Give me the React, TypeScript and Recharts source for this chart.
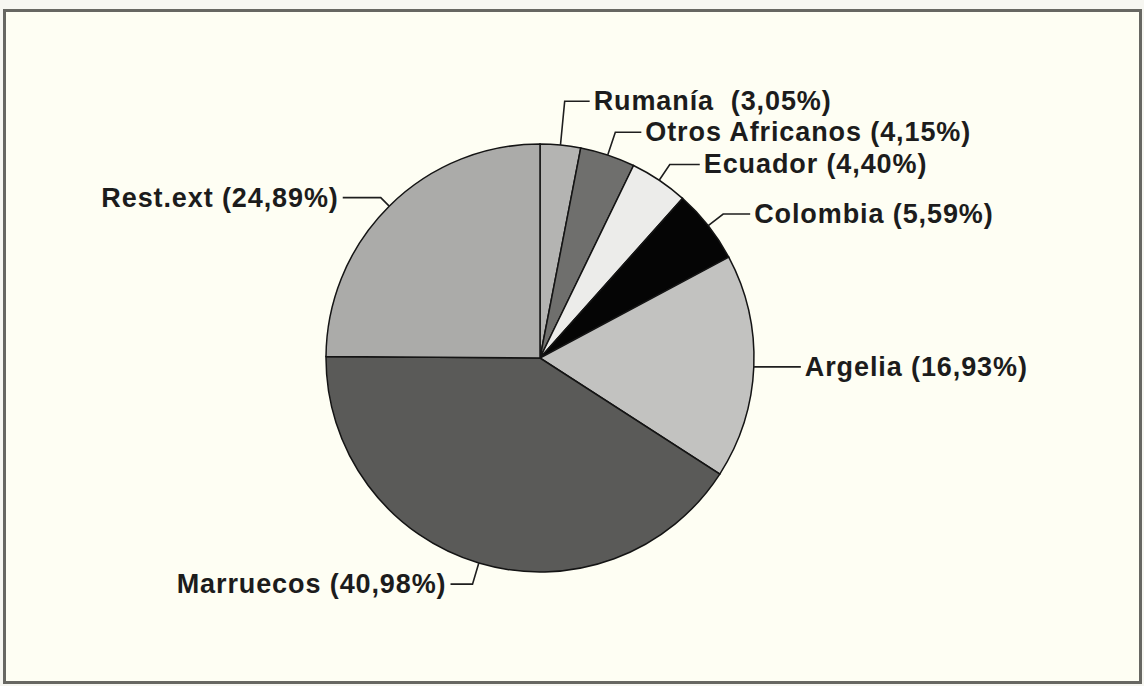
import React from 'react';
import { PieChart, Pie, Cell } from 'recharts';

// share of foreign population by origin (%)
const countries = ['Rumanía', 'Otros Africanos', 'Ecuador', 'Colombia', 'Argelia', 'Marruecos', 'Rest.ext'];
const shares = [3.05, 4.15, 4.4, 5.59, 16.93, 40.98, 24.89];
const sliceColors = ['#b4b4b2', '#6f6f6d', '#ececea', '#050505', '#c2c2c0', '#5a5a58', '#ababa9'];

// leader line layout per slice: [radial length, horizontal run]
const leaderLayout = [
  [44, 25],
  [24, 26],
  [19, 30],
  [19, 27],
  [0, 47],
  [22, 22],
  [12, 38],
];

const data = countries.map((name, i) => ({ name, value: shares[i] }));

const formatLabel = (name: string, value: number) => {
  const pct = value.toFixed(2).replace('.', ',');
  const gap = name === 'Rumanía' ? '\u00a0 ' : ' ';
  return `${name}${gap}(${pct}%)`;
};

const RAD = Math.PI / 180;

const renderLabel = (props: any) => {
  const { cx, cy, midAngle, outerRadius, index } = props;
  const cos = Math.cos(-midAngle * RAD);
  const sin = Math.sin(-midAngle * RAD);
  const [radial, run] = leaderLayout[index];
  const sx = cx + outerRadius * cos;
  const sy = cy + outerRadius * sin;
  const ex = cx + (outerRadius + radial) * cos;
  const ey = cy + (outerRadius + radial) * sin;
  const dir = cos >= 0 ? 1 : -1;
  const tx = ex + dir * run;
  return (
    <g>
      <path d={`M${sx},${sy}L${ex},${ey}L${tx},${ey}`} stroke="#1e1e1e" strokeWidth={1.6} fill="none" />
      <text
        x={tx + dir * 4}
        y={ey}
        textAnchor={dir > 0 ? 'start' : 'end'}
        dominantBaseline="central"
        fill="#1c1c1c"
        fontFamily="'Liberation Sans', Arial, sans-serif"
        fontWeight="bold"
        fontSize={27}
        letterSpacing={0.9}
      >
        {formatLabel(data[index].name, data[index].value)}
      </text>
    </g>
  );
};

const App: React.FC = () => {
  return (
    <div style={{ position: 'fixed', left: 0, top: 0, width: 1144, height: 686, background: '#f6f6f1' }}>
      <div
        style={{
          position: 'absolute',
          left: 3,
          top: 9,
          width: 1133,
          height: 669,
          border: '3px solid #676762',
          background: '#fefef3',
        }}
      />
      <div style={{ position: 'absolute', left: 0, top: 0 }}>
        <PieChart width={1144} height={686} margin={{ top: 0, right: 0, bottom: 0, left: 0 }}>
          <Pie
            data={data}
            dataKey="value"
            nameKey="name"
            cx={540}
            cy={358}
            outerRadius={214}
            startAngle={90}
            endAngle={-270}
            stroke="#141414"
            strokeWidth={1.5}
            label={renderLabel}
            labelLine={false}
            isAnimationActive={false}
          >
            {data.map((d, i) => (
              <Cell key={d.name} fill={sliceColors[i]} />
            ))}
          </Pie>
        </PieChart>
      </div>
    </div>
  );
};

export default App;
